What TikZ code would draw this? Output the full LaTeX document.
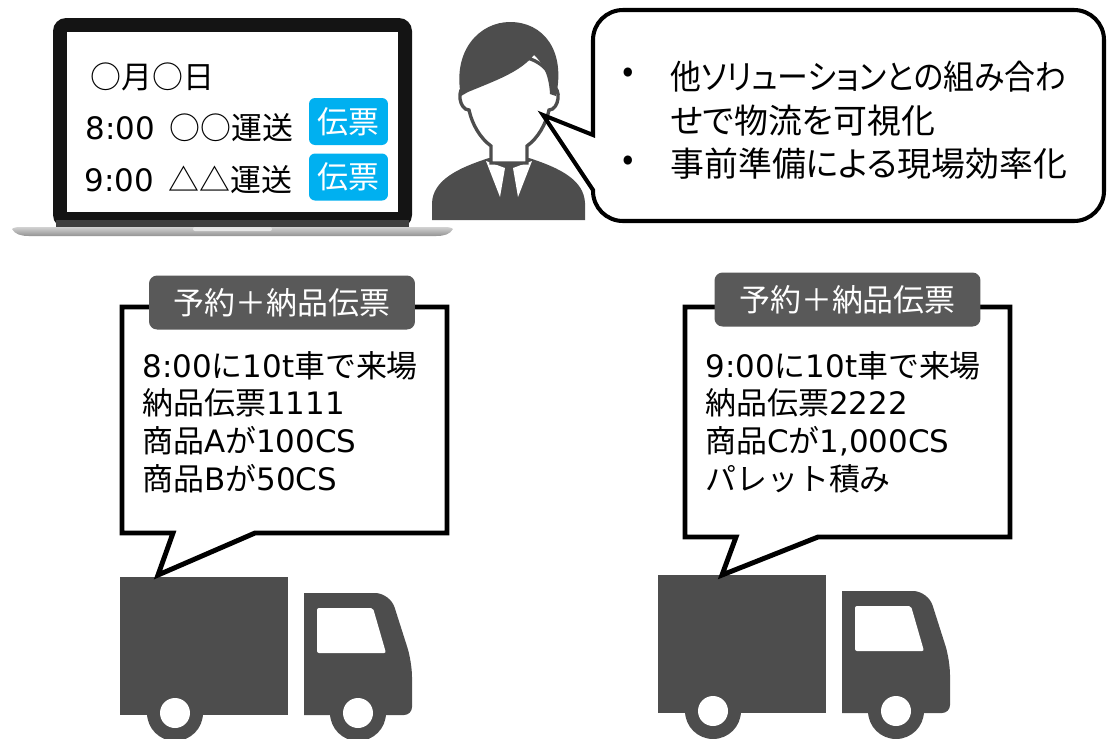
\documentclass[tikz,border=0pt]{standalone}
\usepackage{fontspec}
\setmainfont{Noto Sans CJK JP}
\newfontfamily\jpprop[RawFeature={+palt}]{Noto Sans CJK JP}
\newfontfamily\latinfont{DejaVu Sans}
\usepackage{tikz}

\definecolor{ticketblue}{HTML}{00B0F0}
\definecolor{tabgray}{HTML}{595959}
\definecolor{icongray}{HTML}{4D4D4D}

\begin{document}
\begin{tikzpicture}[x=0.02cm, y=-0.02cm]
        \tikzset{screentext/.style = {anchor=west, inner sep=0pt, font=\fontsize{17.6pt}{21pt}\selectfont}}
        \tikzset{btn/.style = {fill=ticketblue, text=white, rounded corners=0.12cm, minimum width=1.58cm, minimum height=0.94cm, inner sep=0pt, font=\fontsize{17.6pt}{21pt}\selectfont}}
        \tikzset{slipline/.style = {draw=black, fill=white, line width=2.8pt}}
        \tikzset{sliptab/.style = {fill=tabgray, text=white, rounded corners=0.16cm, minimum width=5.32cm, minimum height=1.08cm, inner sep=0pt, font=\fontsize{17.6pt}{21pt}\selectfont}}
        \tikzset{sliptext/.style = {anchor=north west, inner sep=0pt, align=left, font=\fontsize{17.6pt}{21.4pt}\selectfont}}
        \tikzset{memotext/.style = {anchor=north west, inner sep=0pt, align=left, font=\jpprop\fontsize{19.3pt}{24.8pt}\selectfont}}
        \tikzset{truck/.style = {fill=icongray}}
        \useasboundingbox (0,0) rectangle (1109,738);

        % laptop
        \fill[black!92, rounded corners=0.26cm] (53,18) rectangle (412,228);
        \fill[black!75] (56,220) rectangle (409,228);
        \fill[white] (67,32) rectangle (398,212);
        \shade[top color=gray!35, bottom color=gray!85] (12,229) .. controls (14,227) and (18,227) .. (24,227) -- (441,227) .. controls (447,227) and (451,227) .. (453,229) .. controls (450,234) and (445,236) .. (436,236) -- (29,236) .. controls (20,236) and (15,234) .. (12,229) -- cycle;
        \fill[gray!20, rounded corners=0.04cm] (193,227) rectangle (272,231);

        % screen
        \node[screentext] (date) at (90,77) {○月○日};
        \node[screentext] (rowA) at (85,128) {{\latinfont 8:00}\hspace{0.3cm}○○運送};
        \node[screentext] (rowB) at (84,180) {{\latinfont 9:00}\hspace{0.3cm}△△運送};
        \node[btn] (btnA) at (348.5,121.5) {伝票};
        \node[btn] (btnB) at (348.5,177) {伝票};

        % person
        \fill[icongray] (432,220) -- (432,203) .. controls (433,180) and (458,168) .. (489,158) -- (529,158) .. controls (560,168) and (584,180) .. (585,203) -- (585,220) -- cycle;
        \fill[white] (486,161) -- (505,168) -- (500,197) -- cycle;
        \fill[white] (532,161) -- (513,168) -- (518,197) -- cycle;
        \filldraw[fill=white, draw=icongray, line width=1.9pt] (491,163) -- (491,146) .. controls (480,138) and (472,124) .. (469,110) .. controls (459,110) and (456,88) .. (466,86) .. controls (466,45) and (552,45) .. (552,86) .. controls (562,88) and (559,110) .. (549,110) .. controls (546,124) and (538,138) .. (527,146) -- (527,163) -- cycle;
        \fill[icongray] (461,96) .. controls (452,50) and (480,22) .. (510,22) .. controls (543,22) and (566,50) .. (556,96) -- (550,94) .. controls (549,75) and (543,63) .. (534,55) .. controls (520,72) and (497,80) .. (468,92) -- cycle;

        % speech bubble
        \coordinate (face) at (543,115);
        \draw[fill=white, line width=2.3pt] (593,135) [rounded corners=0.6cm] -- (593,10) -- (1104,10) -- (1104,221) -- (593,221) [sharp corners] -- (593,190) -- (face) -- cycle;
        \node[font=\fontsize{19.3pt}{24pt}\selectfont] (dotA) at (628,75) {•};
        \node[font=\fontsize{19.3pt}{24pt}\selectfont] (dotB) at (628,163) {•};
        \node[memotext] (memo) at (670,61) {\scalebox{0.91}[1]{他ソリューションとの組み合わ}\\せで物流を可視化\\事前準備による現場効率化};

        % trucks
        \foreach \dx/\dy in {0/0, 538/-2} {
          \begin{scope}[shift={(\dx,\dy)}]
            \fill[truck] (120,577) rectangle (288,715);
            \fill[truck] (304,715) -- (304,593) [rounded corners=0.3cm] -- (390,593) -- (412,662) [rounded corners=0.16cm] -- (412,715) [sharp corners] -- cycle;
            \fill[white, rounded corners=0.04cm] (317,608) -- (373,608) -- (386,653) -- (317,653) -- cycle;
            \fill[truck] (175,713) circle[radius=0.56cm];
            \fill[truck] (358,713) circle[radius=0.56cm];
            \fill[white] (175,713) circle[radius=0.3cm];
            \fill[white] (358,713) circle[radius=0.3cm];
          \end{scope}
        }

        % delivery slips
        \coordinate (tipA) at (158,575);
        \coordinate (tipB) at (722,575);
        \draw[slipline] (122,533) -- (122,307) -- (447,307) -- (447,533) -- (255,533) -- (tipA) -- (173,533) -- cycle;
        \draw[slipline] (685,537) -- (685,307) -- (1010,307) -- (1010,537) -- (818,537) -- (tipB) -- (736,537) -- cycle;
        \node[sliptab] (tabA) at (282,302.5) {予約＋納品伝票};
        \node[sliptab] (tabB) at (847.5,299.5) {予約＋納品伝票};
        \node[sliptext] (slipA) at (142,351) {{\latinfont 8:00}に{\latinfont 10t}車で来場\\納品伝票{\latinfont 1111}\\商品{\latinfont A}が{\latinfont 100CS}\\商品{\latinfont B}が{\latinfont 50CS}};
        \node[sliptext] (slipB) at (705,351) {{\latinfont 9:00}に{\latinfont 10t}車で来場\\納品伝票{\latinfont 2222}\\商品{\latinfont C}が{\latinfont 1,000CS}\\パレット積み};
\end{tikzpicture}
\end{document}
